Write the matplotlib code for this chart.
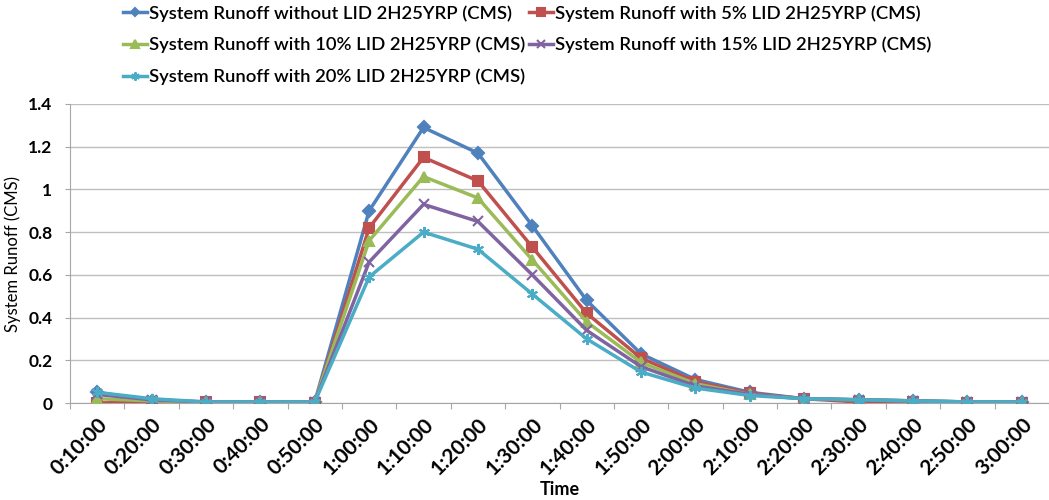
import matplotlib
matplotlib.use("Agg")
import matplotlib.pyplot as plt
import numpy as np

# Data
times = ["0:10:00", "0:20:00", "0:30:00", "0:40:00", "0:50:00", "1:00:00",
         "1:10:00", "1:20:00", "1:30:00", "1:40:00", "1:50:00", "2:00:00",
         "2:10:00", "2:20:00", "2:30:00", "2:40:00", "2:50:00", "3:00:00"]

no_lid  = [0.05, 0.01, 0.005, 0.005, 0.005, 0.90, 1.29, 1.17, 0.83, 0.48, 0.23, 0.11,
           0.05, 0.02, 0.015, 0.01, 0.005, 0.005]
lid_5   = [0.0, 0.005, 0.005, 0.005, 0.0, 0.82, 1.15, 1.04, 0.73, 0.42, 0.21, 0.10,
           0.045, 0.02, 0.005, 0.005, 0.0, 0.0]
lid_10  = [0.02, 0.01, 0.005, 0.005, 0.005, 0.76, 1.06, 0.96, 0.67, 0.38, 0.19, 0.09,
           0.04, 0.02, 0.015, 0.01, 0.005, 0.005]
lid_15  = [0.04, 0.015, 0.005, 0.005, 0.005, 0.66, 0.93, 0.85, 0.60, 0.34, 0.17, 0.08,
           0.04, 0.02, 0.015, 0.01, 0.005, 0.005]
lid_20  = [0.05, 0.02, 0.005, 0.005, 0.005, 0.59, 0.80, 0.72, 0.51, 0.30, 0.145, 0.07,
           0.035, 0.02, 0.015, 0.01, 0.005, 0.005]

labels = ["System Runoff without LID 2H25YRP (CMS)",
          "System Runoff with 5% LID 2H25YRP (CMS)",
          "System Runoff with 10% LID 2H25YRP (CMS)",
          "System Runoff with 15% LID 2H25YRP (CMS)",
          "System Runoff with 20% LID 2H25YRP (CMS)"]

series  = [no_lid, lid_5, lid_10, lid_15, lid_20]
colors  = ["#4F81BD", "#C0504D", "#9BBB59", "#8064A2", "#4BACC6"]
markers = ["D", "s", "^", "x", (6, 2, 0)]
msizes  = [6, 7, 7, 7, 8]

plt.rcParams["font.family"] = ["Lato", "DejaVu Sans"]

fig = plt.figure(figsize=(10.49, 5.0), dpi=100)
ax = fig.add_axes([70 / 1049, 97 / 500, 979 / 1049, 299 / 500])

x = np.arange(len(times))
handles = []
for y, c, m, ms, lab in zip(series, colors, markers, msizes, labels):
    h, = ax.plot(x, y, color=c, lw=2.5, marker=m, ms=ms, mew=1.5,
                 mec=c, mfc=c, label=lab, zorder=3)
    handles.append(h)

ax.set_xlim(-0.5, len(times) - 0.5)
ax.set_ylim(0, 1.4)
ax.set_yticks(np.arange(0, 1.41, 0.2))
ax.set_yticklabels(["0", "0.2", "0.4", "0.6", "0.8", "1", "1.2", "1.4"],
                   fontsize=12.5, fontweight="bold")

# ticks between categories, labels at the centres
ax.set_xticks(np.arange(-0.5, len(times), 1.0))
ax.set_xticklabels([])
ax.set_xticks(x, minor=True)
ax.set_xticklabels(times, minor=True, rotation=45, ha="right",
                   rotation_mode="anchor", fontsize=15, fontweight="bold")
ax.tick_params(axis="x", which="major", length=4, color="#A6A6A6")
ax.tick_params(axis="x", which="minor", length=0, pad=8)
ax.tick_params(axis="y", length=3.6, color="#A6A6A6", pad=9)

ax.grid(axis="y", color="#BFBFBF", lw=1)
ax.set_axisbelow(True)
for s in ["top", "right"]:
    ax.spines[s].set_visible(False)
for s in ["left", "bottom"]:
    ax.spines[s].set_color("#A6A6A6")

ax.set_xlabel("Time", fontsize=13, fontweight="bold")
ax.xaxis.set_label_coords(0.5, -0.262)
ax.set_ylabel("System Runoff (CMS)", fontsize=12)
ax.yaxis.set_label_coords(-0.05, 0.5)

# legend in row order: (blue, red), (green, purple), (cyan)
order = [0, 2, 4, 1, 3]
fig.legend([handles[i] for i in order], [labels[i] for i in order],
           loc="upper left", bbox_to_anchor=(123 / 1049, 0.99), ncol=2,
           frameon=False, handlelength=1.3, handletextpad=0.1,
           columnspacing=0.2, labelspacing=0.82, borderpad=0,
           borderaxespad=0, markerscale=0.75,
           prop={"weight": "semibold", "size": 13.3})

fig.savefig("out.png", dpi=100)
